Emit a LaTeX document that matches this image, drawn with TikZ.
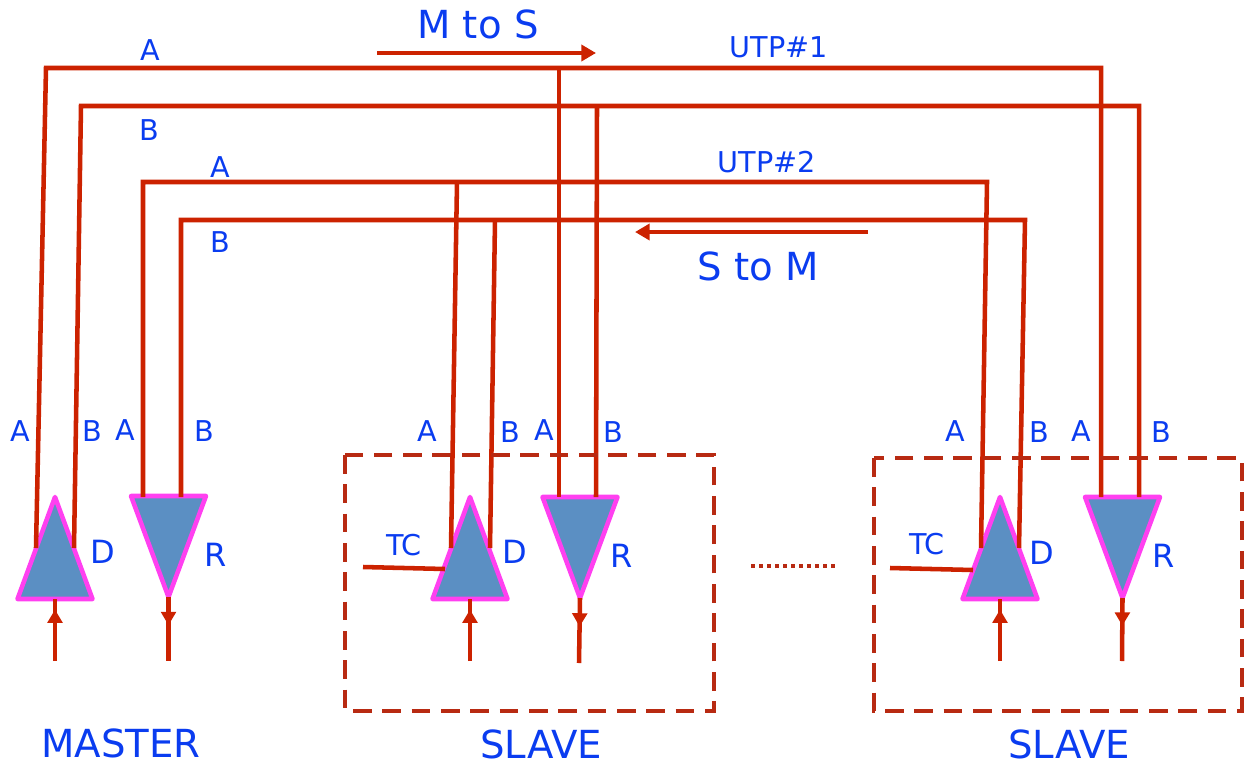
\documentclass[tikz,border=0pt]{standalone}
\usepackage{fontspec}
\setmainfont{DejaVu Sans}
\usetikzlibrary{arrows.meta,decorations.markings}
\definecolor{wirered}{HTML}{CC2200}
\definecolor{boxred}{HTML}{B82A12}
\definecolor{txtblue}{HTML}{0A3CF0}
\definecolor{trifill}{HTML}{5B8FC3}
\definecolor{tripink}{HTML}{FF40F0}
\tikzset{
  wire/.style={draw=wirered,line width=3.4pt,line join=miter},
  feed/.style={wire,postaction={decorate},decoration={markings,mark=at position #1 with {\arrow[wirered]{Triangle[length=10pt,width=11pt]}}}},
  bigarrow/.style={wire,-{Triangle[length=11pt,width=12pt]}},
  tri/.style={draw=tripink,fill=trifill,line width=3.4pt,line join=round},
  dashbox/.style={draw=boxred,line width=2.8pt,dash pattern=on 14pt off 8pt},
  dots/.style={draw=boxred,line width=2.8pt,dash pattern=on 3pt off 3pt},
  lab/.style={text=txtblue,font=\fontsize{21.5}{21.5}\selectfont,inner sep=0pt},
  labm/.style={text=txtblue,font=\fontsize{24}{24}\selectfont,inner sep=0pt},
  labl/.style={text=txtblue,font=\fontsize{29}{29}\selectfont,inner sep=0pt},
  x=0.75pt,y=-0.75pt
}
\newcommand{\upT}[3]{% name, apex x, apex y
  \coordinate (#1t) at (#2,#3);
  \coordinate (#1l) at (#2-37.5,#3+102);
  \coordinate (#1r) at (#2+37.5,#3+102);
  \coordinate (#1b) at (#2,#3+102);
  \path[tri] (#1t) -- (#1l) -- (#1r) -- cycle;
}
\newcommand{\dnT}[3]{% name, apex x, top y
  \coordinate (#1b) at (#2,#3+101);
  \coordinate (#1l) at (#2-37.5,#3);
  \coordinate (#1r) at (#2+37.5,#3);
  \path[tri] (#1l) -- (#1r) -- (#1b) -- cycle;
}
\begin{document}
\begin{tikzpicture}
\useasboundingbox (0,0) rectangle (1251,763);
% triangles
\upT{md}{55}{497}
\dnT{mr}{168.5}{496}
\upT{aD}{470}{497}
\dnT{aR}{580}{497}
\upT{bD}{1000}{497}
\dnT{bR}{1122.5}{497}
% anchor points of the wires
\coordinate (mdA) at (36,548);
\coordinate (mdB) at (74,548);
\coordinate (u1a0) at (46,68);
\coordinate (u1b0) at (81,106);
\coordinate (u1a1) at (1101,68);
\coordinate (u1b1) at (1139,106);
\coordinate (u1a2) at (1101,497);
\coordinate (u1b2) at (1139,497);
\coordinate (u1am) at (559,68);
\coordinate (u1bm) at (597,106);
\coordinate (aRA) at (559,497);
\coordinate (aRB) at (596,497);
\coordinate (mrA) at (143,497);
\coordinate (mrB) at (181,497);
\coordinate (u2a0) at (143,182);
\coordinate (u2b0) at (181,220);
\coordinate (u2a1) at (987,182);
\coordinate (u2b1) at (1025,220);
\coordinate (bDA) at (981,548);
\coordinate (bDB) at (1019,548);
\coordinate (u2am) at (457,182);
\coordinate (u2bm) at (495,220);
\coordinate (aDA) at (451,548);
\coordinate (aDB) at (490,548);
% wires
\draw[wire] (mdA) -- (u1a0) -- (u1a1) -- (u1a2);
\draw[wire] (mdB) -- (u1b0) -- (u1b1) -- (u1b2);
\draw[wire] (u1am) -- (aRA);
\draw[wire] (u1bm) -- (aRB);
\draw[wire] (mrA) -- (u2a0) -- (u2a1) -- (bDA);
\draw[wire] (mrB) -- (u2b0) -- (u2b1) -- (bDB);
\draw[wire] (u2am) -- (aDA);
\draw[wire] (u2bm) -- (aDB);
% enable inputs
\coordinate (tca) at (363,567); \coordinate (tcae) at (445,569);
\coordinate (tcb) at (890,568); \coordinate (tcbe) at (973,570);
\draw[wire] (tca) -- (tcae);
\draw[wire] (tcb) -- (tcbe);
% feeds
\coordinate (mdi) at (55,661); \coordinate (mro) at (168.5,661);
\coordinate (adi) at (470,661); \coordinate (aro) at (579,663);
\coordinate (bdi) at (1000,661); \coordinate (bro) at (1122,661);
\draw[feed=0.83] (mdi) -- (mdb);
\draw[feed=0.44] (mrb) -- (mro);
\draw[feed=0.83] (adi) -- (aDb);
\draw[feed=0.44] (aRb) -- (aro);
\draw[feed=0.83] (bdi) -- (bDb);
\draw[feed=0.44] (bRb) -- (bro);
% direction arrows
\coordinate (ms0) at (377,53); \coordinate (ms1) at (596,53);
\coordinate (sm0) at (868,232); \coordinate (sm1) at (635,232);
\draw[bigarrow] (ms0) -- (ms1);
\draw[bigarrow] (sm0) -- (sm1);
% slave boxes
\coordinate (b1a) at (345,455); \coordinate (b1b) at (714,711);
\coordinate (b2a) at (874,458); \coordinate (b2b) at (1242,711);
\draw[dashbox] (b1a) rectangle (b1b);
\draw[dashbox] (b2a) rectangle (b2b);
\coordinate (d0) at (751,566); \coordinate (d1) at (837,566);
\draw[dots] (d0) -- (d1);
% labels
\node[labl] (tms) at (478,24) {M to S};
\node[labl] (tsm) at (758,266) {S to M};
\node[lab] (l1) at (150,50) {A};
\node[lab] (l2) at (149,130) {B};
\node[lab] (l3) at (220,167) {A};
\node[lab] (l4) at (220,242) {B};
\node[lab] (u1) at (779,47) {UTP\#1};
\node[lab] (u2) at (767,162) {UTP\#2};
\node[lab] (l5) at (20,431) {A};
\node[lab] (l6) at (92,431) {B};
\node[lab] (l7) at (125,430) {A};
\node[lab] (l8) at (204,431) {B};
\node[lab] (l9) at (427,431) {A};
\node[lab] (l10) at (510,432) {B};
\node[lab] (l11) at (544,430) {A};
\node[lab] (l12) at (613,432) {B};
\node[lab] (l13) at (955,431) {A};
\node[lab] (l14) at (1039,432) {B};
\node[lab] (l15) at (1081,431) {A};
\node[lab] (l16) at (1161,432) {B};
\node[lab] (tc1) at (404,545) {TC};
\node[lab] (tc2) at (927,544) {TC};
\node[labm] (d1l) at (103,552) {D};
\node[labm] (r1l) at (216,555) {R};
\node[labm] (d2l) at (515,552) {D};
\node[labm] (r2l) at (622,556) {R};
\node[labm] (d3l) at (1042,553) {D};
\node[labm] (r3l) at (1164,556) {R};
\node[labl] (mm) at (121,743) {MASTER};
\node[labl] (s1) at (541,744) {SLAVE};
\node[labl] (s2) at (1069,744) {SLAVE};
\end{tikzpicture}
\end{document}
